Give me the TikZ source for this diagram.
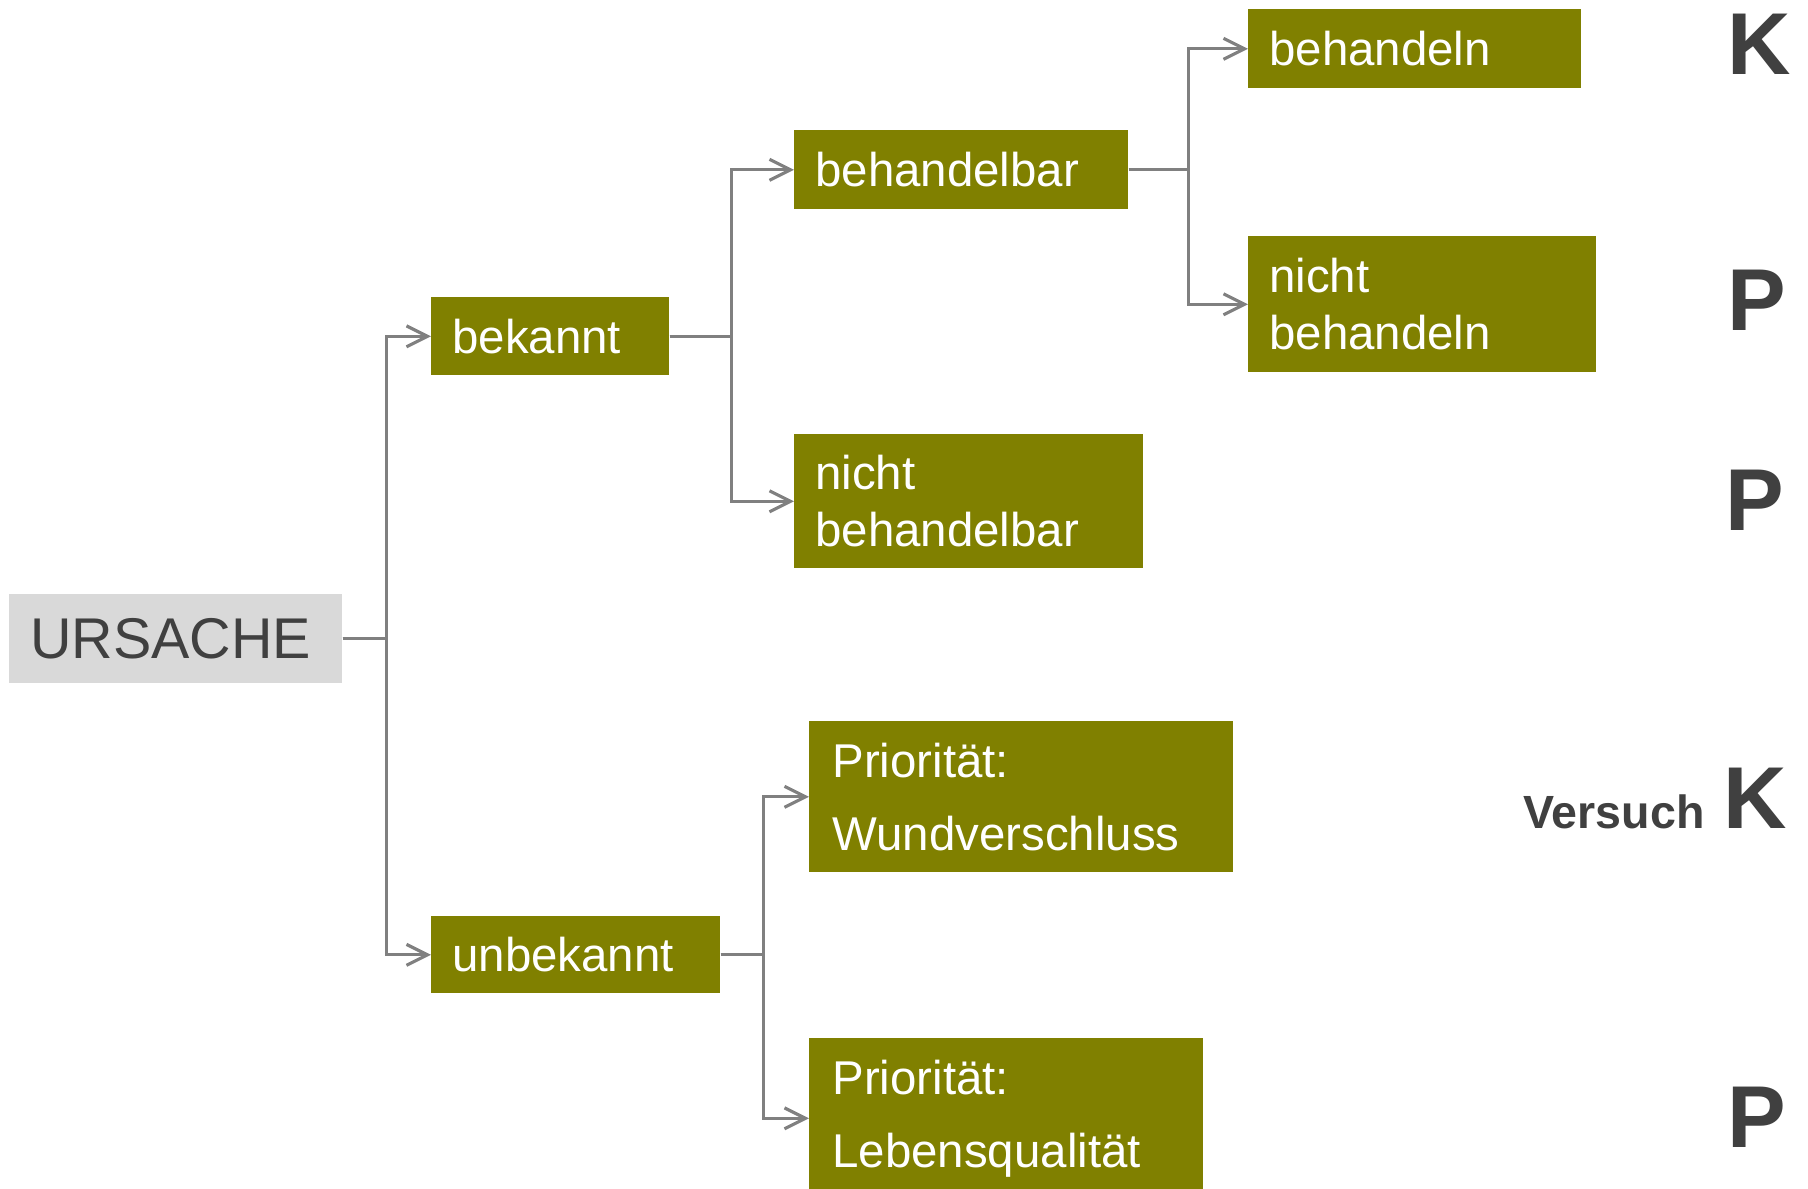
\documentclass[tikz,border=0pt]{standalone}
\usepackage{fontspec}
\setmainfont{Liberation Sans}
\usetikzlibrary{arrows.meta}
\definecolor{boxolive}{RGB}{128,128,0}
\definecolor{linegray}{RGB}{128,128,128}
\definecolor{textgray}{RGB}{64,64,64}
\definecolor{rootgray}{RGB}{217,217,217}

\begin{document}
\begin{tikzpicture}[x=0.02cm,y=-0.02cm,
   box/.style 2 args={fill=boxolive,text=white,anchor=north west,inner xsep=0.42cm,inner ysep=0pt,
      align=left,text width=#1,minimum height=#2,font=\fontsize{27}{32.4}\selectfont},
   link/.style={draw=linegray,line width=1.8pt,-{Straight Barb[length=0.42cm,width=0.42cm]}},
   grade/.style={text=textgray,anchor=base west,inner sep=0pt,font=\bfseries\fontsize{50}{60}\selectfont}]
   \useasboundingbox (0,0) rectangle (1808,1189);

   \node[box={5.82cm}{1.78cm},fill=rootgray,text=textgray,font=\fontsize{32.7}{39}\selectfont] (ursache) at (9,594) {URSACHE};
   \node[box={3.92cm}{1.56cm}] (bek) at (431,297) {bekannt};
   \node[box={4.94cm}{1.54cm}] (unbek) at (431,916) {unbekannt};
   \node[box={5.84cm}{1.58cm}] (bar) at (794,130) {behandelbar};
   \node[box={6.14cm}{2.68cm}] (nbar) at (794,434) {nicht\\behandelbar};
   \node[box={5.82cm}{1.58cm}] (beh) at (1248,9) {behandeln};
   \node[box={6.12cm}{2.72cm}] (nbeh) at (1248,236) {nicht\\behandeln};
   \node[box={7.56cm}{3.02cm},inner xsep=0.46cm,font=\fontsize{27}{41.5}\selectfont] (wund) at (809,721) {Priorität:\\Wundverschluss};
   \node[box={6.96cm}{3.2cm},inner xsep=0.46cm,font=\fontsize{27}{41.5}\selectfont] (leben) at (809,1038) {Priorität:\\Lebensqualität};

   \node[grade] (k1) at (1727,75) {K};
   \node[grade] (p1) at (1727,331) {P};
   \node[grade] (p2) at (1725,530) {P};
   \node[grade] (k2) at (1723,828) {K};
   \node[grade] (p3) at (1727,1147) {P};
   \node[text=textgray,anchor=base east,inner sep=0pt,font=\bfseries\fontsize{26.5}{32}\selectfont] (vers) at (1705,828) {Versuch};

   \draw[link] (ursache.east) -- ++(44,0) |- (bek.west);
   \draw[link] (ursache.east) -- ++(44,0) |- (unbek.west);
   \draw[link] (bek.east) -- ++(62,0) |- (bar.west);
   \draw[link] (bek.east) -- ++(62,0) |- (nbar.west);
   \draw[link] (bar.east) -- ++(60,0) |- (beh.west);
   \draw[link] (bar.east) -- ++(60,0) |- (nbeh.west);
   \draw[link] (unbek.east) -- ++(43,0) |- (wund.west);
   \draw[link] (unbek.east) -- ++(43,0) |- (leben.west);
\end{tikzpicture}
\end{document}
